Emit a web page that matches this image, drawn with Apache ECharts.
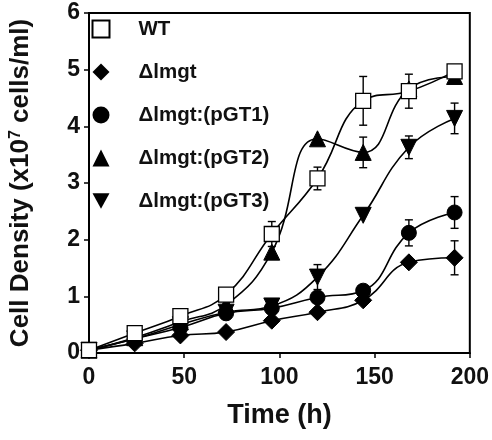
<!DOCTYPE html>
<html><head><meta charset="utf-8">
<script src="https://cdn.jsdelivr.net/npm/echarts@6/dist/echarts.min.js"></script>
<style>html,body{margin:0;padding:0;background:#fff}#c{width:492px;height:440px}</style>
</head><body><div id="c"></div>
<script>
var times = [0, 24, 48, 72, 96, 120, 144, 168, 192];
var seriesNames = ['WT', '\u0394lmgt', '\u0394lmgt:(pGT1)', '\u0394lmgt:(pGT2)', '\u0394lmgt:(pGT3)'];
var wt   = [0.05, 0.35, 0.65, 1.03, 2.10, 3.08, 4.45, 4.62, 4.97];
var lmgt = [0.05, 0.17, 0.31, 0.37, 0.57, 0.72, 0.93, 1.60, 1.68];
var pgt1 = [0.05, 0.25, 0.45, 0.70, 0.79, 0.98, 1.10, 2.12, 2.48];
var pgt2 = [0.05, 0.27, 0.55, 0.85, 1.78, 3.78, 3.54, 4.66, 4.88];
var pgt3 = [0.05, 0.25, 0.50, 0.72, 0.83, 1.34, 2.43, 3.63, 4.14];
var wtErr   = [0, 0, 0, 0, 0.22, 0.20, 0.43, 0.30, 0];
var lmgtErr = [0, 0, 0, 0, 0, 0, 0, 0, 0.30];
var pgt1Err = [0, 0, 0, 0, 0, 0, 0, 0.23, 0.28];
var pgt2Err = [0, 0, 0, 0, 0, 0, 0.27, 0, 0];
var pgt3Err = [0, 0, 0, 0, 0, 0.22, 0, 0.20, 0.27];
var xTicks = [0, 50, 100, 150, 200];
var yTicks = [0, 1, 2, 3, 4, 5, 6];

var vals = [wt, lmgt, pgt1, pgt2, pgt3];
var errs = [wtErr, lmgtErr, pgt1Err, pgt2Err, pgt3Err];
var symbols = ['rect', 'diamond', 'circle', 'triangle', 'path://M0,0 L10,0 L5,9 Z'];
var sizes = [15, 17, 15, 16, 16];
var zs = [9, 4, 5, 6, 7];
var FONT = 'Liberation Sans, Arial, Helvetica, sans-serif';

var series = [];
var errData = [];
for (var s = 0; s < 5; s++) {
  var d = [];
  for (var i = 0; i < times.length; i++) {
    d.push([times[i], vals[s][i]]);
    if (errs[s][i] > 0) errData.push([times[i], vals[s][i] - errs[s][i], vals[s][i] + errs[s][i]]);
  }
  series.push({
    name: seriesNames[s], type: 'line', data: d, smooth: 0.45,
    symbol: symbols[s], symbolSize: sizes[s], showAllSymbol: true,
    lineStyle: {color: '#000', width: 1.6},
    itemStyle: s === 0 ? {color: '#fff', borderColor: '#000', borderWidth: 1.3, opacity: 1} : {color: '#000', borderColor: '#000', opacity: 1},
    z: zs[s], animation: false
  });
}
series.unshift({
  type: 'custom', name: 'err', data: errData, z: 1, animation: false, silent: true,
  encode: {x: 0, y: [1, 2]},
  renderItem: function (params, api) {
    var lo = api.coord([api.value(0), api.value(1)]);
    var hi = api.coord([api.value(0), api.value(2)]);
    var w = 4;
    var st = {stroke: '#000', lineWidth: 1.4};
    return {type: 'group', children: [
      {type: 'line', shape: {x1: hi[0], y1: hi[1], x2: lo[0], y2: lo[1]}, style: st},
      {type: 'line', shape: {x1: hi[0] - w, y1: hi[1], x2: hi[0] + w, y2: hi[1]}, style: st},
      {type: 'line', shape: {x1: lo[0] - w, y1: lo[1], x2: lo[0] + w, y2: lo[1]}, style: st}
    ]};
  }
});

var chart = echarts.init(document.getElementById('c'), null, {renderer: 'canvas'});
chart.setOption({
  animation: false,
  backgroundColor: '#fff',
  grid: {left: 86, right: 22, top: 13, bottom: 87, show: true, borderColor: '#000', borderWidth: 2, backgroundColor: 'transparent'},
  legend: {
    orient: 'vertical', left: 91.5, top: 18.5, padding: 0, itemGap: 22, itemWidth: 17, itemHeight: 17,
    data: seriesNames.map(function (n, k) { return {name: n, icon: symbols[k]}; }),
    textStyle: {fontFamily: FONT, fontWeight: 'bold', fontSize: 20.5, color: '#111', padding: [0, 0, 0, 24]},
    selectedMode: false
  },
  xAxis: {
    type: 'value', min: xTicks[0], max: xTicks[xTicks.length - 1], interval: 50,
    name: 'Time (h)', nameLocation: 'middle', nameGap: 49,
    nameTextStyle: {fontFamily: FONT, fontWeight: 'bold', fontSize: 27, color: '#111'},
    axisLine: {show: true, lineStyle: {color: '#000', width: 2}},
    axisTick: {show: true, inside: false, length: 5, lineStyle: {color: '#000', width: 1.5}},
    axisLabel: {fontFamily: FONT, fontWeight: 'bold', fontSize: 23, color: '#111', margin: 13},
    splitLine: {show: false}
  },
  yAxis: {
    type: 'value', min: yTicks[0], max: yTicks[yTicks.length - 1], interval: 1,
    name: 'Cell Density (x10{sup|7} cells/ml)', nameLocation: 'middle', nameGap: 55, nameRotate: 90,
    nameTextStyle: {fontFamily: FONT, fontWeight: 'bold', fontSize: 26, color: '#111',
      rich: {sup: {fontFamily: FONT, fontWeight: 'bold', fontSize: 16, color: '#111', verticalAlign: 'top', padding: [0, 0, 10, 0]}}},
    axisLine: {show: true, lineStyle: {color: '#000', width: 2}},
    axisTick: {show: true, inside: false, length: 5, lineStyle: {color: '#000', width: 1.5}},
    axisLabel: {fontFamily: FONT, fontWeight: 'bold', fontSize: 23, color: '#111', margin: 9},
    splitLine: {show: false}
  },
  series: series
});
</script></body></html>
